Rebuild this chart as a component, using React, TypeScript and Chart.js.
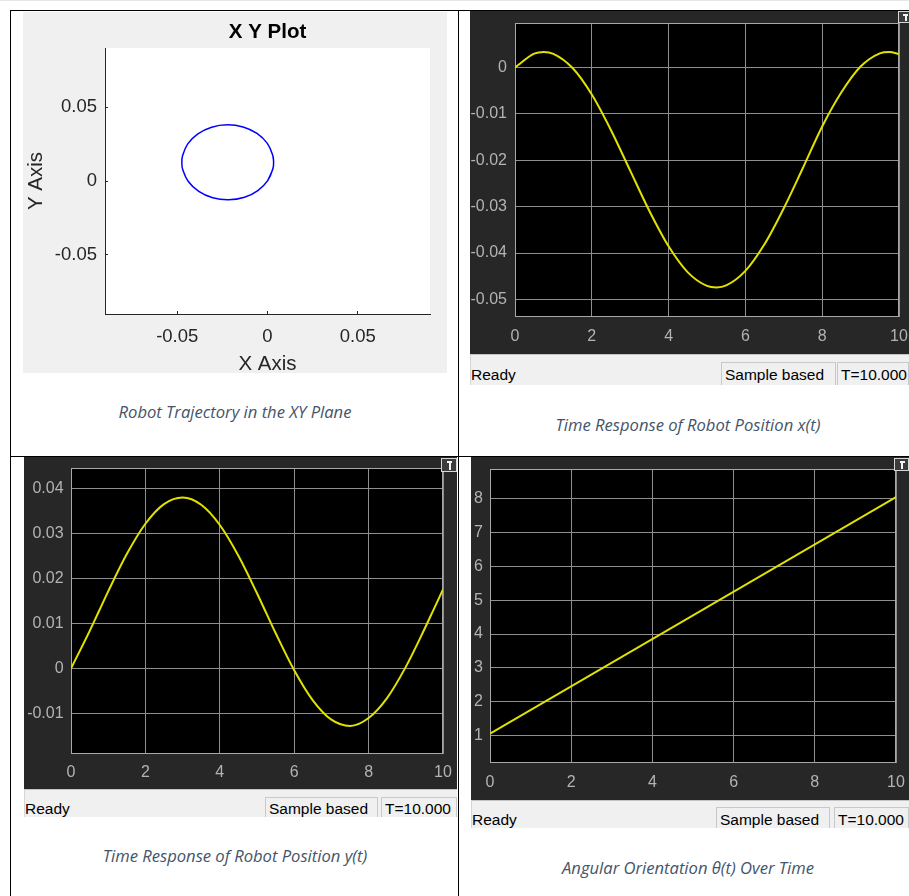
import React, { useEffect, useRef } from "react";
import { Chart, registerables } from "chart.js";
Chart.register(...registerables);

// ---- data ----
const TIME = [0, 0.5, 0.75, 1, 1.5, 2, 2.5, 3, 3.5, 4, 4.5, 5, 5.25, 5.5, 6, 6.5, 7, 7.5, 8, 8.5, 9, 9.5, 9.75, 10];
const X_POS = [0, 0.003, 0.00337, 0.00296, -0.00011, -0.00583, -0.01352, -0.02225, -0.03094, -0.03856, -0.04417, -0.0471, -0.04743, -0.04699, -0.04385, -0.03807, -0.03034, -0.02161, -0.01272, -0.00535, 0.00021, 0.00306, 0.00336, 0.00289];
const Y_POS = [0, 0.00832, 0.01274, 0.01717, 0.02546, 0.0322, 0.03657, 0.03804, 0.03642, 0.03193, 0.02509, 0.01674, 0.01232, 0.0079, -0.00037, -0.00706, -0.01137, -0.01276, -0.011, -0.00651, 0.00037, 0.00874, 0.01317, 0.01758];
const THETA_TIME = [0, 10];
const THETA = [1.05, 8.05];

// ---- ticks ----
const TIME_TICKS = [0, 2, 4, 6, 8, 10];
const XT_TICKS = [-0.05, -0.04, -0.03, -0.02, -0.01, 0];
const YT_TICKS = [-0.01, 0, 0.01, 0.02, 0.03, 0.04];
const THETA_TICKS = [1, 2, 3, 4, 5, 6, 7, 8];
const XY_TICKS = [-0.05, 0, 0.05];

// ---- texts ----
const XY_TITLE = "X Y Plot";
const XY_XLABEL = "X Axis";
const XY_YLABEL = "Y Axis";
const CAPTIONS = [
  "Robot Trajectory in the XY Plane",
  "Time Response of Robot Position x(t)",
  "Time Response of Robot Position y(t)",
  "Angular Orientation \u03b8(t) Over Time",
];
const STATUS = ["Ready", "Sample based", "T=10.000"];

const SANS = "'Liberation Sans', Arial, Helvetica, sans-serif";
const GRID = "#8f8f8f";
const BOX = "#a8a8a8";
const TICK = "#b3b3b3";
const FRAME = "#272727";
const LINE = "#e2e200";

const fmt = (v: number) => String(+Number(v).toFixed(4));

const zeroPad = (s: any) => { s.paddingLeft = 0; s.paddingRight = 0; s.paddingTop = 0; s.paddingBottom = 0; };

const scopeArea = {
  id: "scopeArea",
  beforeDraw(chart: any) {
    const { ctx, chartArea: a } = chart;
    ctx.save();
    ctx.fillStyle = "#000";
    ctx.fillRect(a.left, a.top, a.right - a.left, a.bottom - a.top);
    ctx.restore();
  },
  beforeDatasetsDraw(chart: any) {
    const { ctx, chartArea: a } = chart;
    ctx.save();
    ctx.strokeStyle = BOX;
    ctx.lineWidth = 1;
    ctx.strokeRect(Math.round(a.left) + 0.5, Math.round(a.top) + 0.5, Math.round(a.right - a.left) - 1, Math.round(a.bottom - a.top) - 1);
    ctx.restore();
  },
};

const whiteArea = {
  id: "whiteArea",
  beforeDraw(chart: any) {
    const { ctx, chartArea: a } = chart;
    ctx.save();
    ctx.fillStyle = "#fff";
    ctx.fillRect(a.left, a.top, a.right - a.left, a.bottom - a.top);
    ctx.restore();
  },
};

type ScopeP = {
  xs: number[]; ys: number[]; yMin: number; yMax: number; yTicks: number[];
  yW: number; xH: number; padTop: number; padRight: number; yPad: number; xPad: number; mono: boolean;
};

function scopeConfig(p: ScopeP): any {
  return {
    type: "line",
    data: {
      datasets: [{
        data: p.xs.map((x, i) => ({ x, y: p.ys[i] })),
        borderColor: LINE, borderWidth: 2, pointRadius: 0, fill: false,
        cubicInterpolationMode: p.mono ? "monotone" : "default", tension: 0,
      }],
    },
    options: {
      animation: false, responsive: false, maintainAspectRatio: false, events: [],
      layout: { padding: { top: p.padTop, right: p.padRight, left: 0, bottom: 0 } },
      plugins: { legend: { display: false }, tooltip: { enabled: false }, title: { display: false } },
      scales: {
        x: {
          type: "linear", min: 0, max: 10,
          afterBuildTicks: (s: any) => { s.ticks = TIME_TICKS.map((v) => ({ value: v })); },
          afterFit: (s: any) => { s.height = p.xH; zeroPad(s); },
          grid: { color: GRID, lineWidth: 1, drawTicks: false },
          border: { display: false },
          ticks: { color: TICK, font: { family: SANS, size: 16 }, padding: p.xPad, maxRotation: 0, autoSkip: false, callback: (v: any) => fmt(v) },
        },
        y: {
          type: "linear", min: p.yMin, max: p.yMax,
          afterBuildTicks: (s: any) => { s.ticks = p.yTicks.map((v) => ({ value: v })); },
          afterFit: (s: any) => { s.width = p.yW; zeroPad(s); },
          grid: { color: GRID, lineWidth: 1, drawTicks: false },
          border: { display: false },
          ticks: { color: TICK, font: { family: SANS, size: 16 }, padding: p.yPad, autoSkip: false, callback: (v: any) => fmt(v) },
        },
      },
    },
    plugins: [scopeArea],
  };
}

function xyConfig(): any {
  const axisColor = "#262626";
  return {
    type: "line",
    data: {
      datasets: [{
        data: X_POS.map((x, i) => ({ x, y: Y_POS[i] })),
        borderColor: "#0000ff", borderWidth: 1.5, pointRadius: 0, fill: false, tension: 0.4,
      }],
    },
    options: {
      animation: false, responsive: false, maintainAspectRatio: false, events: [],
      layout: { padding: { top: 0, right: 17, left: 0, bottom: 0 } },
      plugins: {
        legend: { display: false }, tooltip: { enabled: false },
        title: {
          display: true, text: XY_TITLE, fullSize: false, color: "#000",
          font: { family: SANS, size: 20.5, weight: "bold", lineHeight: 1.2 },
          padding: { top: 8, bottom: 3.4 },
        },
      },
      scales: {
        x: {
          type: "linear", min: -0.09, max: 0.09,
          afterBuildTicks: (s: any) => { s.ticks = XY_TICKS.map((v) => ({ value: v })); },
          afterFit: (s: any) => { s.height = 59; zeroPad(s); },
          grid: { drawOnChartArea: false, drawTicks: true, tickLength: -3, color: axisColor },
          border: { display: true, color: axisColor, width: 1 },
          ticks: { color: axisColor, font: { family: SANS, size: 18.5 }, padding: 15, maxRotation: 0, autoSkip: false, callback: (v: any) => fmt(v) },
          title: { display: true, text: XY_XLABEL, color: axisColor, font: { family: SANS, size: 20.5, lineHeight: 1.2 }, padding: { top: 0, bottom: -4 } },
        },
        y: {
          type: "linear", min: -0.09, max: 0.09,
          afterBuildTicks: (s: any) => { s.ticks = XY_TICKS.map((v) => ({ value: v })); },
          afterFit: (s: any) => { s.width = 82; zeroPad(s); },
          grid: { drawOnChartArea: false, drawTicks: true, tickLength: -3, color: axisColor },
          border: { display: true, color: axisColor, width: 1 },
          ticks: { color: axisColor, font: { family: SANS, size: 18.5 }, padding: 11, autoSkip: false, callback: (v: any) => fmt(v) },
          title: { display: true, text: XY_YLABEL, color: axisColor, font: { family: SANS, size: 20.5, lineHeight: 1.2 }, padding: { top: 1, bottom: 0 } },
        },
      },
    },
    plugins: [whiteArea],
  };
}

function ChartCanvas({ make, left, top, width, height }: { make: () => any; left: number; top: number; width: number; height: number }) {
  const ref = useRef<HTMLCanvasElement | null>(null);
  useEffect(() => {
    const chart = new Chart(ref.current as HTMLCanvasElement, make());
    return () => chart.destroy();
  }, []);
  return (
    <canvas ref={ref} width={width} height={height}
      style={{ position: "absolute", left, top, width, height, display: "block" }} />
  );
}

function abs(left: number, top: number, width: number, height: number, extra: any = {}): any {
  return { position: "absolute", left, top, width, height, boxSizing: "border-box", ...extra };
}

function StatusBar({ left, top, width, height, sb, tb, boxTop, textTop }: {
  left: number; top: number; width: number; height: number; sb: [number, number]; tb: [number, number]; boxTop: number; textTop: number;
}) {
  const txt = { position: "absolute", fontFamily: SANS, fontSize: 15.5, lineHeight: "15.5px", color: "#000", whiteSpace: "nowrap" } as any;
  const bottom = top + height;
  return (
    <>
      <div style={abs(left, top, width, height, { background: "#f0f0f0", borderTop: "1px solid #c4c4c4", borderLeft: "1px solid #d6d6d6" })} />
      <div style={{ ...txt, left: left + 1, top: textTop }}>{STATUS[0]}</div>
      <div style={abs(sb[0], boxTop, sb[1], bottom - boxTop, { borderTop: "1px solid #c8c8c8", borderLeft: "1px solid #c8c8c8", borderRight: "1px solid #c8c8c8" })} />
      <div style={{ ...txt, left: sb[0] + 4, top: textTop }}>{STATUS[1]}</div>
      <div style={abs(tb[0], boxTop, tb[1], bottom - boxTop, { borderTop: "1px solid #c8c8c8", borderLeft: "1px solid #c8c8c8", borderRight: "1px solid #c8c8c8" })} />
      <div style={{ ...txt, left: tb[0] + 4, top: textTop }}>{STATUS[2]}</div>
    </>
  );
}

function Icon({ left, top, size }: { left: number; top: number; size: number }) {
  return (
    <div style={abs(left, top, size, size - 2, { border: "1px solid #d8d8d8", background: "#3c3c3c" })}>
      <div style={abs(size / 2 - 3, 2, 5, 2, { background: "#f4f4f4" })} />
      <div style={abs(size / 2 - 1.5, 4, 2, size - 9, { background: "#f4f4f4" })} />
    </div>
  );
}

const CAP_SIZE = 16.6;
function Caption({ cx, baseline, text }: { cx: number; baseline: number; text: string }) {
  return (
    <div style={{
      position: "absolute", left: cx - 220, width: 440, top: baseline - 0.888 * CAP_SIZE, textAlign: "center",
      fontFamily: "'Open Sans', sans-serif", fontStyle: "italic", fontSize: CAP_SIZE, lineHeight: `${CAP_SIZE}px`,
      color: "#44546a", whiteSpace: "nowrap",
    }}>{text}</div>
  );
}

export default function App() {
  const line = (l: number, t: number, w: number, h: number) => <div style={abs(l, t, w, h, { background: "#000" })} />;
  return (
    <div style={{ position: "absolute", left: 0, top: 0, width: 909, height: 896, overflow: "hidden", background: "#fff" }}>
      <div style={abs(0, 0, 909, 1, { background: "#e6e6e6" })} />
      {/* table borders */}
      {line(10, 10, 899, 1)}
      {line(10, 10, 1, 886)}
      {line(458, 10, 1, 886)}
      {line(10, 456, 899, 1)}

      {/* top-left: XY plot */}
      <div style={abs(23, 12, 424, 361, { background: "#f0f0f0" })} />
      <ChartCanvas make={xyConfig} left={23} top={12} width={424} height={361} />
      <Caption cx={235} baseline={418.7} text={CAPTIONS[0]} />

      {/* top-right: x(t) */}
      <div style={abs(470, 11, 439, 343, { background: FRAME })} />
      <ChartCanvas left={470} top={11} width={439} height={343} make={() => scopeConfig({
        xs: TIME, ys: X_POS, yMin: -0.0538, yMax: 0.0096, yTicks: XT_TICKS,
        yW: 45, xH: 37, padTop: 12, padRight: 10, yPad: 8, xPad: 10.4, mono: true,
      })} />
      <Icon left={898} top={11} size={14} />
      <StatusBar left={470} top={354} width={439} height={31} sb={[721, 115]} tb={[837, 72]} boxTop={362} textTop={366.9} />
      <Caption cx={688} baseline={431.7} text={CAPTIONS[1]} />

      {/* bottom-left: y(t) */}
      <div style={abs(24, 457, 433, 332, { background: FRAME })} />
      <ChartCanvas left={24} top={457} width={433} height={332} make={() => scopeConfig({
        xs: TIME, ys: Y_POS, yMin: -0.019, yMax: 0.0446, yTicks: YT_TICKS,
        yW: 47, xH: 35, padTop: 11, padRight: 14, yPad: 7.4, xPad: 8.7, mono: true,
      })} />
      <Icon left={441} top={458} size={16} />
      <StatusBar left={24} top={789} width={433} height={28} sb={[265, 113]} tb={[381, 76]} boxTop={797} textTop={801.2} />
      <Caption cx={235} baseline={862.3} text={CAPTIONS[2]} />

      {/* bottom-right: theta(t) */}
      <div style={abs(471, 457, 438, 343, { background: FRAME })} />
      <ChartCanvas left={471} top={457} width={438} height={343} make={() => scopeConfig({
        xs: THETA_TIME, ys: THETA, yMin: 0.185, yMax: 8.88, yTicks: THETA_TICKS,
        yW: 19, xH: 37, padTop: 12, padRight: 13, yPad: 7, xPad: 10.4, mono: false,
      })} />
      <Icon left={894} top={458} size={15} />
      <StatusBar left={471} top={800} width={438} height={28} sb={[716, 114]} tb={[834, 75]} boxTop={807} textTop={811.9} />
      <Caption cx={688} baseline={874.3} text={CAPTIONS[3]} />
    </div>
  );
}
